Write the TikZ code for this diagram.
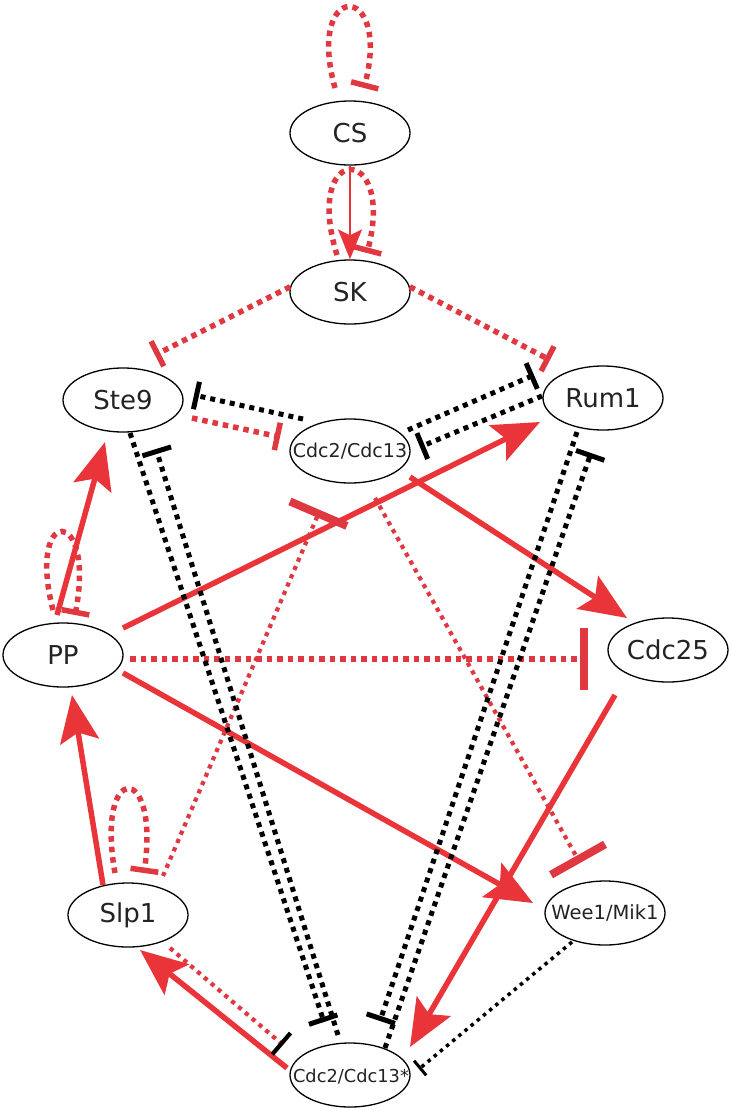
\documentclass[tikz,border=0pt]{standalone}
\usepackage{fontspec}
\setmainfont{DejaVu Sans}
\usetikzlibrary{arrows.meta,shapes.geometric,calc}
\definecolor{nred}{RGB}{233,52,57}
\definecolor{nredd}{RGB}{224,56,64}
\definecolor{ntext}{RGB}{35,35,35}
\begin{document}
\begin{tikzpicture}[x=1bp,y=-1bp,
  ell/.style={draw=black, line width=1.3bp, ellipse, minimum width=120bp, minimum height=64bp, inner sep=0pt, fill=white},
  bigtxt/.style={font=\fontsize{26bp}{30bp}\selectfont, text=ntext, inner sep=0pt},
  smalltxt/.style={font=\fontsize{#1}{22bp}\selectfont, text=ntext, inner sep=0pt},
  act/.style={draw=nred, line width=5.5bp, -{Stealth[length=47bp,width=39bp,inset=9bp]}},
  actthin/.style={draw=nred, line width=2bp, -{Stealth[length=30bp,width=24bp,inset=6bp]}},
  rdot/.style={draw=nredd, line width=5.5bp, dash pattern=on 5.5bp off 5bp},
  rdotthin/.style={draw=nredd, line width=4.2bp, dash pattern=on 4.2bp off 4.8bp},
  kdot/.style={draw=black, line width=5bp, dash pattern=on 5bp off 5bp},
  kdotthin/.style={draw=black, line width=3.5bp, dash pattern=on 3.5bp off 4.5bp},
  tbar/.style={-{Bar[width=28bp]}},
  tbarwide/.style={-{Bar[width=30bp]}},
  tbarblack/.style={-{Bar[width=28bp,color=black]}},
  tbarsmall/.style={-{Bar[width=19bp,line width=3bp]}},
  tbarthick/.style={-{Bar[width=62bp,line width=8bp]}}
]
\useasboundingbox (0,0) rectangle (731,1111);
\fill[white] (0,0) rectangle (731,1111);

% nodes
\node[ell] (cs) at (350,133) {};
\node[ell] (sk) at (350,292) {};
\node[ell] (ste9) at (123,400) {};
\node[ell] (cdc) at (350,451) {};
\node[ell] (rum1) at (603,398) {};
\node[ell] (pp) at (63,655) {};
\node[ell] (cdc25) at (668,650) {};
\node[ell] (slp1) at (128,915) {};
\node[ell] (wee1) at (605,913) {};
\node[ell] (cdcs) at (350,1075) {};

\node[bigtxt] (cs-t) at (cs) {CS};
\node[bigtxt] (sk-t) at (sk) {SK};
\node[bigtxt] (ste9-t) at (ste9) {Ste9};
\node[smalltxt=19bp] (cdc-t) at (cdc) {Cdc2/Cdc13};
\node[bigtxt] (rum1-t) at (rum1) {Rum1};
\node[bigtxt] (pp-t) at (pp) {PP};
\node[bigtxt] (cdc25-t) at (cdc25) {Cdc25};
\node[bigtxt] (slp1-t) at (slp1) {Slp1};
\node[smalltxt=19.5bp] (wee1-t) at (wee1) {Wee1/Mik1};
\node[smalltxt=17.8bp] (cdcs-t) at ($(cdcs)+(1,2)$) {Cdc2/Cdc13*};

% self loops
\draw[rdot,tbar] ($(cs)+(-15,-45)$) .. controls ($(cs)+(-45,-153)$) and ($(cs)+(42,-153)$) .. ($(cs)+(14,-45)$);
\draw[rdot,tbar] ($(sk)+(-13,-37)$) .. controls ($(sk)+(-48,-150)$) and ($(sk)+(46,-150)$) .. ($(sk)+(17,-39)$);
\draw[rdot,tbar] ($(pp)+(-10,-45)$) .. controls ($(pp)+(-37,-150)$) and ($(pp)+(33,-150)$) .. ($(pp)+(12,-40)$);
\draw[rdot,tbar] ($(slp1)+(-13,-42)$) .. controls ($(slp1)+(-33,-154)$) and ($(slp1)+(32,-154)$) .. ($(slp1)+(16,-42)$);

% CS -> SK
\draw[actthin] (cs.south) -- (sk.north);

% SK inhibitions
\draw[rdot,tbar] (sk.175) -- ($(ste9)+(32,-45)$);
\draw[rdot,tbar] (sk.5) -- ($(rum1)+(-53,-38)$);

% Ste9 / Cdc2/Cdc13
\draw[kdot,tbar] ($(cdc)+(-47,-32)$) -- ($(ste9)+(71,-5)$);
\draw[rdot,tbar] ($(ste9)+(69,18)$) -- ($(cdc)+(-70,-14)$);

% Rum1 / Cdc2/Cdc13
\draw[kdot,tbar] ($(cdc)+(58,-21)$) -- ($(rum1)+(-69,-23)$);
\draw[kdot,tbar] ($(rum1)+(-61,-2)$) -- ($(cdc)+(70,-4)$);

% activations
\draw[act] ($(cdc)+(60,26)$) -- ($(cdc25)+(-41,-32)$);
\draw[act] ($(pp)+(60,-27)$) -- ($(rum1)+(-63,24)$);
\draw[act] ($(pp)+(60,18)$) -- ($(wee1)+(-72,-10)$);
\draw[act] ($(cdc25)+(-53,45)$) -- ($(cdcs)+(60,-28)$);
\draw[act] ($(pp)+(-6,-40)$) -- ($(ste9)+(-18,42)$);
\draw[act] ($(slp1)+(-25,-30)$) -- ($(pp)+(9,40)$);
\draw[act] ($(cdcs)+(-63,-7)$) -- ($(slp1)+(12,35)$);

% thick inhibitions
\draw[rdotthin,tbarthick] ($(slp1)+(35,-39)$) -- ($(cdc)+(-30,59)$);
\draw[rdotthin,tbarthick] ($(cdc)+(25,47)$) -- ($(wee1)+(-25,-50)$);
\draw[rdot,tbarthick] ($(pp)+(67,4)$) -- ($(cdc25)+(-80,9)$);

% Slp1 -| Cdc2/Cdc13*
\draw[rdotthin,tbarblack] ($(slp1)+(42,33)$) -- ($(cdcs)+(-67,-30)$);

% long black pairs
\draw[kdot,tbarwide] ($(ste9)+(7,33)$) -- ($(cdcs)+(-26,-53)$);
\draw[kdot,tbarwide] ($(cdcs)+(-12,-40)$) -- ($(ste9)+(33,49)$);
\draw[kdot,tbarwide] ($(rum1)+(-26,34)$) -- ($(cdcs)+(30,-54)$);
\draw[kdot,tbarwide] ($(cdcs)+(35,-27)$) -- ($(rum1)+(-12,55)$);

% Wee1 -| Cdc2/Cdc13*
\draw[kdotthin,tbarsmall] ($(wee1)+(-33,29)$) -- ($(cdcs)+(69,-6)$);
\end{tikzpicture}
\end{document}
